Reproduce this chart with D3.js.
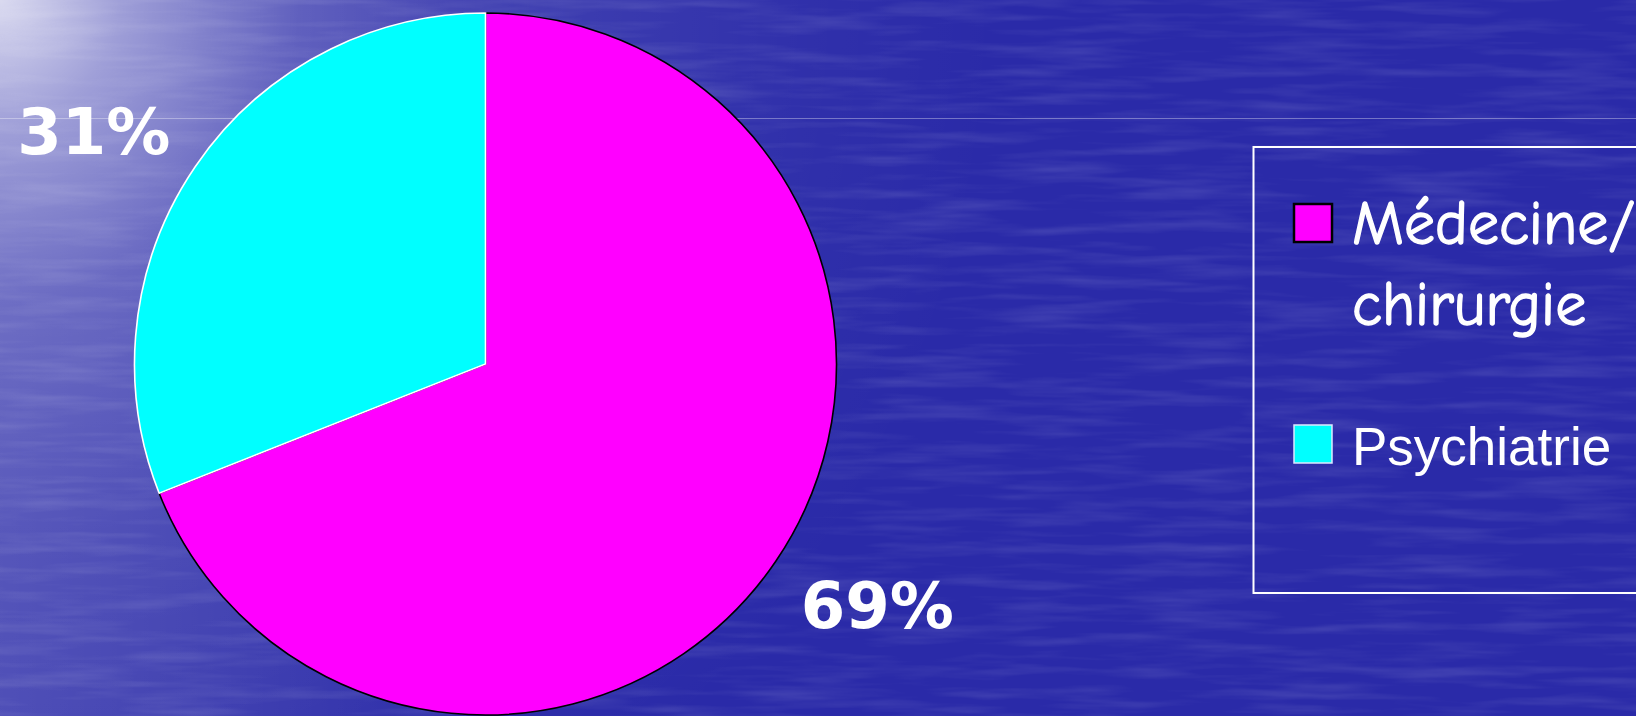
<!DOCTYPE html>
<html>
<head>
<meta charset="utf-8">
<script src="https://cdn.jsdelivr.net/npm/d3@7"></script>
<style>
  html, body { margin: 0; padding: 0; overflow: hidden; background: #2a2aa8; }
  svg { display: block; }
</style>
</head>
<body>
<div id="chart"></div>
<script>
// chart data
var categories = ["Médecine/chirurgie", "Psychiatrie"];
var values = [69, 31];
var labels = ["69%", "31%"];
var legendLines = [["Médecine/", "chirurgie"], ["Psychiatrie"]];

var WIDTH = 1636, HEIGHT = 716;

var svg = d3.select('#chart').append('svg')
  .attr('width', WIDTH)
  .attr('height', HEIGHT);

var defs = svg.append('defs');

// light glow from the top-left corner
var glow = defs.append('radialGradient')
  .attr('id', 'glow')
  .attr('gradientUnits', 'userSpaceOnUse')
  .attr('cx', 0).attr('cy', 0).attr('r', 1000);
[[0, 0.8], [0.12, 0.5], [0.3, 0.22], [0.55, 0.09], [0.8, 0.03], [1, 0]].forEach(function(s) {
  glow.append('stop').attr('offset', s[0]).attr('stop-color', '#ffffff').attr('stop-opacity', s[1]);
});

// left band is a bit lighter all the way down
var leftBand = defs.append('linearGradient')
  .attr('id', 'leftBand')
  .attr('x1', 0).attr('x2', 1).attr('y1', 0).attr('y2', 0);
leftBand.append('stop').attr('offset', 0).attr('stop-color', '#ffffff').attr('stop-opacity', 0.13);
leftBand.append('stop').attr('offset', 1).attr('stop-color', '#ffffff').attr('stop-opacity', 0);

// streaky water texture
var water = defs.append('filter').attr('id', 'water')
  .attr('x', 0).attr('y', 0).attr('width', '100%').attr('height', '100%');
water.append('feTurbulence')
  .attr('type', 'fractalNoise')
  .attr('baseFrequency', '0.008 0.09')
  .attr('numOctaves', 3)
  .attr('seed', 3);
water.append('feColorMatrix')
  .attr('type', 'matrix')
  .attr('values', '0 0 0 0 1  0 0 0 0 1  0 0 0 0 1  0 0 0 1.4 -0.6');

svg.append('rect').attr('width', WIDTH).attr('height', HEIGHT).attr('fill', '#2a2aa8');
svg.append('rect').attr('width', 450).attr('height', HEIGHT).attr('fill', 'url(#leftBand)');
svg.append('rect').attr('width', WIDTH).attr('height', HEIGHT).attr('fill', 'url(#glow)');
svg.append('rect').attr('width', WIDTH).attr('height', HEIGHT)
  .attr('filter', 'url(#water)').attr('opacity', 0.16);

// faint title separator line
svg.append('line')
  .attr('x1', 0).attr('x2', WIDTH)
  .attr('y1', 118.5).attr('y2', 118.5)
  .attr('stroke', 'rgba(255,255,255,0.35)')
  .attr('stroke-width', 1);

// pie
var cx = 485.5, cy = 364, radius = 351;
var color = d3.scaleOrdinal().domain(categories).range(['#ff00ff', '#00ffff']);
var edge = d3.scaleOrdinal().domain(categories).range(['#000000', '#ffffff']);

var pie = d3.pie().sort(null).value(function(d) { return d; });
var arcs = pie(values);
var arc = d3.arc().innerRadius(0).outerRadius(radius);

var g = svg.append('g').attr('transform', 'translate(' + cx + ',' + cy + ')');

g.selectAll('path')
  .data(arcs)
  .enter()
  .append('path')
  .attr('d', arc)
  .attr('fill', function(d, i) { return color(categories[i]); })
  .attr('stroke', function(d, i) { return edge(categories[i]); })
  .attr('stroke-width', 1.6)
  .attr('stroke-linejoin', 'miter');

// percentage labels outside the slices (Excel nudges them a little counter-clockwise)
var labelArc = d3.arc().innerRadius(458).outerRadius(458);
var nudge = -3 * Math.PI / 180;
g.selectAll('text.pct')
  .data(arcs)
  .enter()
  .append('text')
  .attr('class', 'pct')
  .attr('transform', function(d) {
    var c = labelArc.centroid({ startAngle: d.startAngle + nudge, endAngle: d.endAngle + nudge });
    return 'translate(' + c[0] + ',' + c[1] + ')';
  })
  .attr('dy', '0.42em')
  .attr('text-anchor', 'middle')
  .attr('fill', '#ffffff')
  .style('font-family', '"DejaVu Sans", Verdana, sans-serif')
  .style('font-weight', 'bold')
  .style('font-size', '64px')
  .text(function(d, i) { return labels[i]; });

// legend box
svg.append('rect')
  .attr('x', 1253.5).attr('y', 147)
  .attr('width', 420).attr('height', 446)
  .attr('fill', 'none')
  .attr('stroke', '#ffffff')
  .attr('stroke-width', 2);

var legendY = d3.scalePoint().domain(categories).range([204, 425]);
var legend = svg.append('g');

var item = legend.selectAll('g')
  .data(categories)
  .enter()
  .append('g')
  .attr('transform', function(d) { return 'translate(1294,' + legendY(d) + ')'; });

item.append('rect')
  .attr('width', 38).attr('height', 38)
  .attr('fill', function(d) { return color(d); })
  .attr('stroke', function(d, i) { return i === 0 ? '#000000' : '#dde8ff'; })
  .attr('stroke-width', function(d, i) { return i === 0 ? 2.5 : 1.5; });

item.append('text')
  .attr('x', 58)
  .attr('fill', '#ffffff')
  // comic font is thinner than the original, thicken it a touch
  .attr('stroke', function(d, i) { return i === 0 ? '#ffffff' : 'none'; })
  .attr('stroke-width', 1.3)
  .style('font-family', function(d, i) {
    return i === 0 ? '"Comic Sans MS", "Comic Neue", "DejaVu Sans", sans-serif' : 'Tahoma, "Liberation Sans", sans-serif';
  })
  .style('font-size', function(d, i) { return i === 0 ? '62px' : '53px'; })
  .selectAll('tspan')
  .data(function(d, i) { return legendLines[i]; })
  .enter()
  .append('tspan')
  .attr('x', 58)
  .attr('y', function(d, j) { return 40 + j * 81; })
  .text(function(d) { return d; });
</script>
</body>
</html>
